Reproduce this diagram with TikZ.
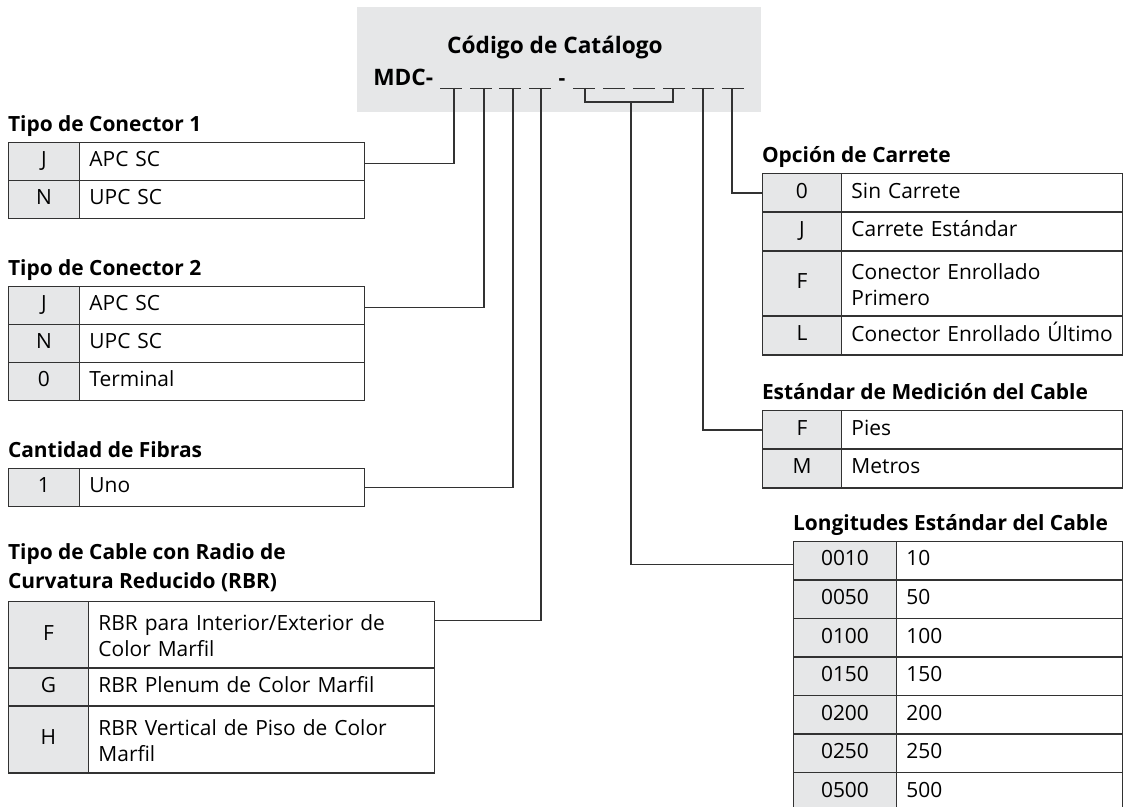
\documentclass[tikz,border=0pt]{standalone}
\usepackage{fontspec}
\setmainfont{Open Sans}
\usepackage{tikz}
\usetikzlibrary{positioning}
\usetikzlibrary{matrix}
\definecolor{boxgray}{RGB}{230,231,232}
\definecolor{linegray}{RGB}{50,50,50}
\newcommand{\bodyfont}{\fontsize{15.7pt}{19.5pt}\selectfont}
\setlength{\parindent}{0pt}

\begin{document}
\begin{tikzpicture}[x=0.75pt, y=-0.75pt]

 \tikzset{code table/.style n args={3}{
 		matrix of nodes,
 		inner sep=0pt,
 		line width=1.1pt,
 		column sep=-\pgflinewidth, row sep=-\pgflinewidth,
 		nodes={draw=linegray,
 			minimum height=#3,
 			anchor=center,
 			inner sep=0pt,
 			font=\bodyfont,
 			execute at begin node=\strut,
 		},
 		column 1/.style={nodes={fill=boxgray, text width=#1, align=center}},
 		column 2/.style={nodes={text width=#2, inner xsep=7.5pt, align=left}},
 	},
 	table title/.style={anchor=base west, inner sep=0pt, font=\bodyfont\bfseries},
 	link/.style={draw=linegray, line width=1.1pt},
 }
 \useasboundingbox (0,0) rectangle (1123,806);

 % catalogue code
 \node[fill=boxgray, minimum width=303pt, minimum height=78.75pt, anchor=north west, inner sep=0pt] (catbox) at (357,7) {};
 \node[anchor=base, inner sep=0pt, font=\fontsize{17pt}{20pt}\selectfont\bfseries] (cattitle) at (555,54) {Código de Catálogo};
 \node[anchor=base west, inner sep=0pt, font=\fontsize{17pt}{20pt}\selectfont\bfseries] (mdc) at (373,86) {MDC-};
 \node[anchor=base, inner sep=0pt, font=\bodyfont\bfseries] (dash) at (562,86) {-};
 \foreach \x in {440,470,499,529,573,603,633,663,692,722}
 	\draw[link, line width=0.7pt] (\x,88) -- ++(22,0);
 \coordinate (s1) at (454,88);
 \coordinate (s2) at (484,88);
 \coordinate (s3) at (513,88);
 \coordinate (s4) at (541,88);
 \coordinate (b1) at (585,88);
 \coordinate (b2) at (673,88);
 \coordinate (bm) at (631,102);
 \coordinate (s9) at (703,88);
 \coordinate (s10) at (732,88);

 % left tables
 \matrix[code table={53.25pt}{198.75pt}{28.5pt}, anchor=north west] (conA) at (7,141)
 {
 	J & APC SC \\
 	N & UPC SC \\
 };
 \node[table title] (conAtitle) at ([yshift=8pt]conA-1-1.north west) {Tipo de Conector 1};

 \matrix[code table={53.25pt}{198.75pt}{28.5pt}, anchor=north west] (conB) at (7,285)
 {
 	J & APC SC \\
 	N & UPC SC \\
 	0 & Terminal \\
 };
 \node[table title] (conBtitle) at ([yshift=8pt]conB-1-1.north west) {Tipo de Conector 2};

 \matrix[code table={53.25pt}{198.75pt}{28.5pt}, anchor=north west] (fib) at (7,467)
 {
 	1 & Uno \\
 };
 \node[table title] (fibtitle) at ([yshift=8pt]fib-1-1.north west) {Cantidad de Fibras};

 \matrix[code table={60pt}{244.5pt}{28.5pt}, anchor=north west,
 	row 1/.style={nodes={minimum height=50pt}}, row 3/.style={nodes={minimum height=50pt}}] (rbr) at (7,600)
 {
 	F & {RBR para Interior/Exterior de\\Color Marfil} \\
 	G & RBR Plenum de Color Marfil \\
 	H & {RBR Vertical de Piso de Color\\Marfil} \\
 };
 \node[table title, align=left, font=\fontsize{15.7pt}{21.75pt}\selectfont\bfseries] (rbrtitle)
 	at ([yshift=9pt]rbr-1-1.north west) {Tipo de Cable con Radio de\\Curvatura Reducido (RBR)};

 % right tables
 \matrix[code table={59.25pt}{195.75pt}{29pt}, anchor=north west,
 	row 3/.style={nodes={minimum height=49pt}}] (opc) at (761,172)
 {
 	0 & Sin Carrete \\
 	J & Carrete Estándar \\
 	F & {Conector Enrollado\\Primero} \\
 	L & \mbox{Conector Enrollado Último} \\
 };
 \node[table title] (opctitle) at ([yshift=8pt]opc-1-1.north west) {Opción de Carrete};

 \matrix[code table={59.25pt}{195.75pt}{29pt}, anchor=north west] (med) at (761,409)
 {
 	F & Pies \\
 	M & Metros \\
 };
 \node[table title] (medtitle) at ([yshift=8pt]med-1-1.north west) {Estándar de Medición del Cable};

 \matrix[code table={77.25pt}{154.5pt}{28.9pt}, anchor=north west] (lon) at (792,540)
 {
 	0010 & 10 \\
 	0050 & 50 \\
 	0100 & 100 \\
 	0150 & 150 \\
 	0200 & 200 \\
 	0250 & 250 \\
 	0500 & 500 \\
 };
 \node[table title] (lontitle) at ([yshift=8pt]lon-1-1.north west) {Longitudes Estándar del Cable};

 % links
 \draw[link] (s1) |- ([yshift=-16.5pt]conA-1-2.north east);
 \draw[link] (s2) |- ([yshift=-16.5pt]conB-1-2.north east);
 \draw[link] (s3) |- (fib-1-2.east);
 \draw[link] (s4) |- ([yshift=-15pt]rbr-1-2.north east);
 \draw[link] (b1) |- (bm) -| (b2);
 \draw[link] (bm) |- ([yshift=-18pt]lon-1-1.north west);
 \draw[link] (s9) |- (med-1-1.west);
 \draw[link] (s10) |- (opc-1-1.west);
\end{tikzpicture}
\end{document}
